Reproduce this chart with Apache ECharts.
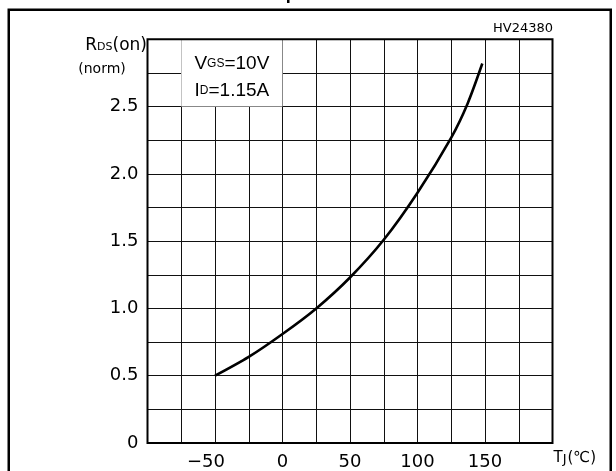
<!DOCTYPE html>
<html>
<head>
<meta charset="utf-8">
<script src="https://cdn.jsdelivr.net/npm/echarts@6/dist/echarts.min.js"></script>
<style>html,body{margin:0;padding:0;background:#fff}#c{width:616px;height:471px}</style>
</head>
<body>
<div id="c"></div>
<script>
// Junction temperature (°C) and normalized RDS(on)
const tempC   = [-50, -25, 0, 25, 50, 75, 100, 125, 137, 148];
const rdsNorm = [0.50, 0.64, 0.81, 1.00, 1.23, 1.51, 1.86, 2.27, 2.52, 2.82];
const xTickValues = [-50, 0, 50, 100, 150];
const xTickLabels = ['−50', '0', '50', '100', '150'];
const yTickValues = [0, 0.5, 1, 1.5, 2, 2.5];
const yTickLabels = ['0', '0.5', '1.0', '1.5', '2.0', '2.5'];
const condBox = { x: [-75, 0], y: [2.5, 3.0] };

const chart = echarts.init(document.getElementById('c'), null, { renderer: 'canvas' });
const FONT = 'DejaVu Sans';

function findLabel(vals, labels, v) {
  for (let i = 0; i < vals.length; i++) if (Math.abs(vals[i] - v) < 1e-6) return labels[i];
  return '';
}

const option = {
  animation: false,
  backgroundColor: '#fff',
  grid: {
    left: 147.5, right: 63.5, top: 39.3, bottom: 27.7,
    show: true, borderColor: '#000', borderWidth: 2, z: 10
  },
  xAxis: {
    type: 'value', min: -100, max: 200, interval: 25,
    axisLine: { show: false }, axisTick: { show: false },
    splitLine: { show: true, lineStyle: { color: '#111', width: 1 } },
    axisLabel: {
      margin: 10, fontFamily: FONT, fontSize: 18, color: '#000',
      formatter: function (v) {
        const s = findLabel(xTickValues, xTickLabels, v);
        if (s.charAt(0) === '−') return s + '{pad| }';
        return s;
      },
      rich: { pad: { width: 18, fontSize: 18 } }
    },
    name: '{t|T}{s|J}{t|(℃)}',
    nameLocation: 'end', nameGap: 1,
    nameTextStyle: {
      verticalAlign: 'top', align: 'left', padding: [8, 0, 0, 0],
      rich: {
        t: { fontFamily: FONT, fontSize: 15, color: '#000' },
        s: { fontFamily: FONT, fontSize: 13, color: '#000', padding: [2, 1, 0, 0] }
      }
    }
  },
  yAxis: {
    type: 'value', min: 0, max: 3.0, interval: 0.25,
    axisLine: { show: false }, axisTick: { show: false },
    splitLine: { show: true, lineStyle: { color: '#111', width: 1 } },
    axisLabel: {
      margin: 9, fontFamily: FONT, fontSize: 18, color: '#000',
      formatter: function (v) { return findLabel(yTickValues, yTickLabels, v); }
    }
  },
  graphic: [
    { type: 'rect', left: 6.25, top: 7.25, z: 100,
      shape: { width: 602, height: 480 },
      style: { fill: 'none', stroke: '#000', lineWidth: 2.5 } },
    { type: 'text', right: 63, top: 22, z: 100,
      style: { text: 'HV24380', fontFamily: FONT, fontSize: 13, fill: '#000' } },
    { type: 'text', x: 147, y: 46, z: 100,
      style: {
        text: '{r|R}{s|DS}{r|(on)}', align: 'right', verticalAlign: 'middle',
        rich: {
          r: { fontFamily: FONT, fontSize: 17, fill: '#000' },
          s: { fontFamily: FONT, fontSize: 11, fill: '#000', padding: [3, 0, 0, 0] }
        }
      } },
    { type: 'text', x: 102, y: 69, z: 100,
      style: { text: '(norm)', fontFamily: FONT, fontSize: 14, fill: '#000',
               align: 'center', verticalAlign: 'middle' } },
    { type: 'rect', left: 287, top: 0, z: 100,
      shape: { width: 2.5, height: 3 }, style: { fill: '#000' } }
  ],
  series: [{
    type: 'line',
    data: tempC.map((t, i) => [t, rdsNorm[i]]),
    smooth: 0.3,
    showSymbol: false,
    lineStyle: { color: '#000', width: 2.6 },
    markArea: {
      silent: true,
      itemStyle: { color: '#fff', borderWidth: 0 },
      label: {
        show: true, position: 'inside', padding: [8, 0, 0, 0],
        formatter: '{b|V}{m|GS}{b|=10V}\n{b|I}{m|D}{b|=1.15A}',
        rich: {
          b: { fontFamily: 'Liberation Sans', fontSize: 19, color: '#000', lineHeight: 27 },
          m: { fontFamily: 'Liberation Sans', fontSize: 12, color: '#000', lineHeight: 27 }
        }
      },
      data: [[{ coord: [condBox.x[0], condBox.y[0]] }, { coord: [condBox.x[1], condBox.y[1]] }]]
    }
  }]
};
chart.setOption(option);
</script>
</body>
</html>
